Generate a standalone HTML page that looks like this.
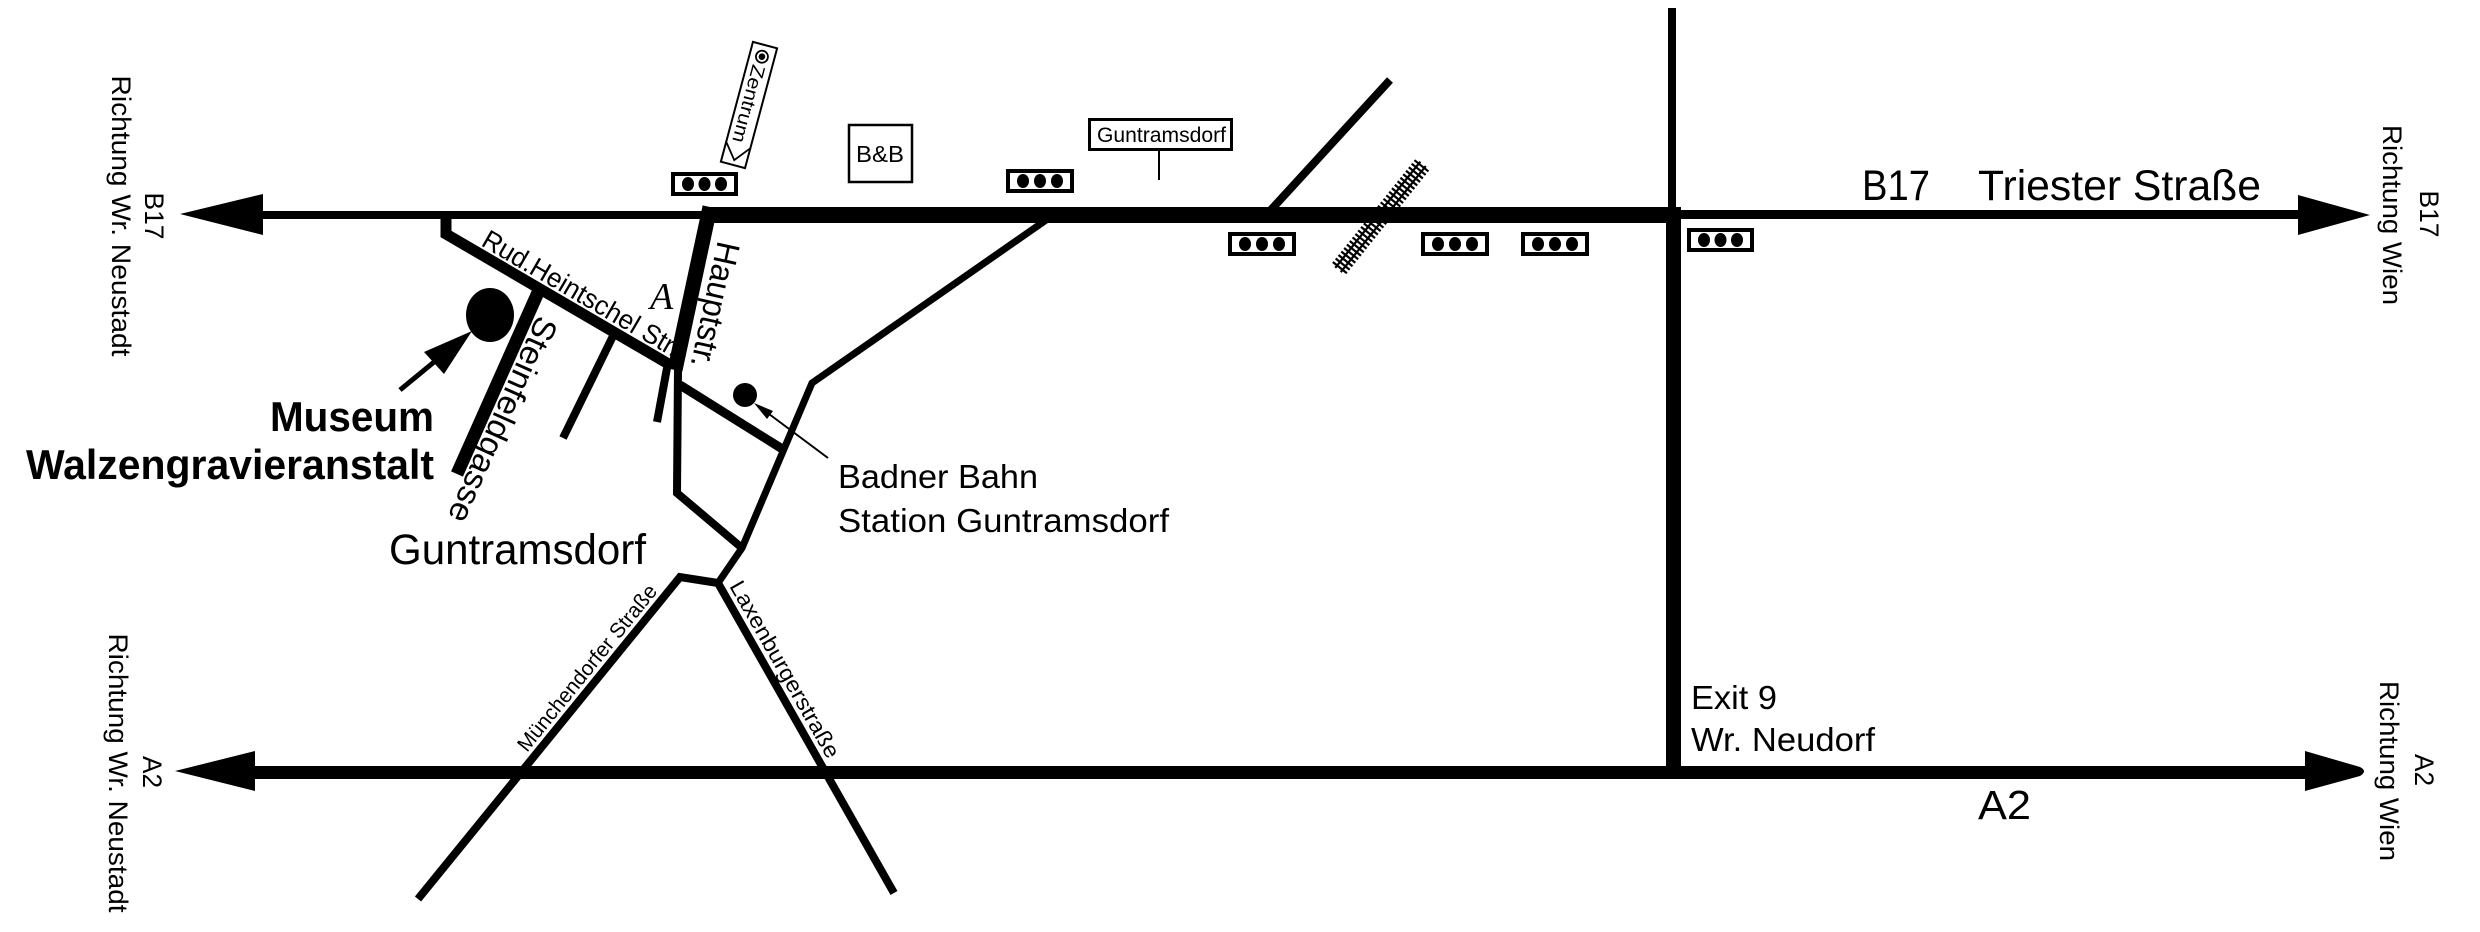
<!DOCTYPE html>
<html>
<head>
<meta charset="utf-8">
<style>
  html, body { margin: 0; padding: 0; background: #fff; }
  svg { display: block; }
  text { font-family: "Liberation Sans", Arial, sans-serif; fill: #000; }
</style>
</head>
<body>
<svg width="2480" height="932" viewBox="0 0 2480 932" xmlns="http://www.w3.org/2000/svg">
  <rect width="2480" height="932" fill="#fff"/>

  <!-- ===== B17 main road ===== -->
  <rect x="258" y="211" width="452" height="8" fill="#000"/>
  <rect x="703" y="207" width="978" height="16" fill="#000"/>
  <rect x="1675" y="210" width="626" height="9" fill="#000"/>
  <polygon points="180,214 263,194 263,235" fill="#000"/>
  <polygon points="2370,215 2298,195 2298,235" fill="#000"/>

  <!-- vertical road (Exit 9) -->
  <rect x="1668" y="8" width="8" height="205" fill="#000"/>
  <rect x="1666" y="207" width="15" height="572" fill="#000"/>

  <!-- ===== A2 ===== -->
  <rect x="250" y="766" width="2060" height="13" fill="#000"/>
  <polygon points="175,771 255,751 255,791" fill="#000"/>
  <path d="M2305,751 L2360,767 Q2368,771 2360,776 L2305,791 Z" fill="#000"/>

  <!-- ===== local roads ===== -->
  <g stroke="#000" fill="none" stroke-linecap="butt" stroke-linejoin="miter">
    <line x1="710" y1="207" x2="675" y2="370" stroke-width="15"/>
    <polyline points="446,217 446,234 672,366" stroke-width="11"/>
    <line x1="540" y1="288" x2="457" y2="474" stroke-width="13"/>
    <line x1="614" y1="334" x2="563" y2="438" stroke-width="8"/>
    <line x1="667" y1="368" x2="657" y2="422" stroke-width="8"/>
    <polyline points="678,368 677,493 742,548" stroke-width="8"/>
    <line x1="680" y1="385" x2="784" y2="450" stroke-width="9"/>
    <polyline points="1049,218 812,383 742,548 718,583" stroke-width="7"/>
    <polyline points="718,583 680,577 418,899" stroke-width="8"/>
    <line x1="718" y1="583" x2="894" y2="893" stroke-width="8"/>
    <line x1="1269" y1="212" x2="1390" y2="80" stroke-width="8"/>
  </g>

  <!-- railway -->
  <g transform="translate(1338,270) rotate(-51.3)" stroke="#000" fill="none">
    <line x1="0" y1="-3.5" x2="136" y2="-3.5" stroke-width="2.2"/>
    <line x1="0" y1="3.5" x2="136" y2="3.5" stroke-width="2.2"/>
    <path stroke-width="2.2" d="M3,-9V9M7.5,-9V9M12,-9V9M16.5,-9V9M21,-9V9M25.5,-9V9M30,-9V9M34.5,-9V9M39,-9V9M43.5,-9V9M48,-9V9M52.5,-9V9M57,-9V9M61.5,-9V9M66,-9V9M70.5,-9V9M75,-9V9M79.5,-9V9M84,-9V9M88.5,-9V9M93,-9V9M97.5,-9V9M102,-9V9M106.5,-9V9M111,-9V9M115.5,-9V9M120,-9V9M124.5,-9V9M129,-9V9M133.5,-9V9"/>
  </g>

  <!-- Museum dot + arrow -->
  <ellipse cx="490" cy="315" rx="24" ry="27" fill="#000"/>
  <line x1="400" y1="390" x2="445" y2="353" stroke="#000" stroke-width="5"/>
  <polygon points="472,331 424,352 444,374" fill="#000"/>

  <!-- Badner Bahn dot + arrow -->
  <circle cx="745" cy="395" r="12" fill="#000"/>
  <line x1="828" y1="458" x2="765" y2="411" stroke="#000" stroke-width="2"/>
  <polygon points="754,403 773,411 767,419" fill="#000"/>

  <!-- traffic lights -->
  <g>
    <g transform="translate(671,172)">
      <rect width="67" height="24" fill="#000"/><rect x="4" y="4" width="59" height="16" fill="#fff"/>
      <ellipse cx="17" cy="12" rx="6" ry="7" fill="#000"/><ellipse cx="33.5" cy="12" rx="6" ry="7" fill="#000"/><ellipse cx="50" cy="12" rx="6" ry="7" fill="#000"/>
    </g>
    <g transform="translate(1006,169)">
      <rect width="68" height="24" fill="#000"/><rect x="4" y="4" width="60" height="16" fill="#fff"/>
      <ellipse cx="17" cy="12" rx="6" ry="7" fill="#000"/><ellipse cx="34" cy="12" rx="6" ry="7" fill="#000"/><ellipse cx="51" cy="12" rx="6" ry="7" fill="#000"/>
    </g>
    <g transform="translate(1228,232)">
      <rect width="68" height="24" fill="#000"/><rect x="4" y="4" width="60" height="16" fill="#fff"/>
      <ellipse cx="17" cy="12" rx="6" ry="7" fill="#000"/><ellipse cx="34" cy="12" rx="6" ry="7" fill="#000"/><ellipse cx="51" cy="12" rx="6" ry="7" fill="#000"/>
    </g>
    <g transform="translate(1421,232)">
      <rect width="68" height="24" fill="#000"/><rect x="4" y="4" width="60" height="16" fill="#fff"/>
      <ellipse cx="17" cy="12" rx="6" ry="7" fill="#000"/><ellipse cx="34" cy="12" rx="6" ry="7" fill="#000"/><ellipse cx="51" cy="12" rx="6" ry="7" fill="#000"/>
    </g>
    <g transform="translate(1521,232)">
      <rect width="68" height="24" fill="#000"/><rect x="4" y="4" width="60" height="16" fill="#fff"/>
      <ellipse cx="17" cy="12" rx="6" ry="7" fill="#000"/><ellipse cx="34" cy="12" rx="6" ry="7" fill="#000"/><ellipse cx="51" cy="12" rx="6" ry="7" fill="#000"/>
    </g>
    <g transform="translate(1687,228)">
      <rect width="67" height="24" fill="#000"/><rect x="4" y="4" width="59" height="16" fill="#fff"/>
      <ellipse cx="17" cy="12" rx="6" ry="7" fill="#000"/><ellipse cx="33.5" cy="12" rx="6" ry="7" fill="#000"/><ellipse cx="50" cy="12" rx="6" ry="7" fill="#000"/>
    </g>
  </g>

  <!-- Zentrum sign -->
  <g transform="translate(749,105) rotate(15)">
    <rect x="-12.5" y="-62" width="25" height="124" fill="#fff" stroke="#000" stroke-width="2"/>
    <circle cx="0" cy="-50" r="6" fill="none" stroke="#000" stroke-width="1.8"/>
    <circle cx="0" cy="-50" r="3.3" fill="#000"/>
    <text transform="rotate(90)" x="-41" y="7" font-size="19" textLength="80" lengthAdjust="spacingAndGlyphs">Zentrum</text>
    <polyline points="-12,42 0,57 12,42" fill="none" stroke="#000" stroke-width="1.8"/>
  </g>

  <!-- B&B -->
  <rect x="849" y="125" width="63" height="57" fill="#fff" stroke="#000" stroke-width="2.5"/>
  <text x="856" y="162" font-size="23" textLength="48" lengthAdjust="spacingAndGlyphs">B&amp;B</text>

  <!-- Guntramsdorf sign -->
  <rect x="1089.5" y="119.5" width="142" height="30" fill="#fff" stroke="#000" stroke-width="3"/>
  <text x="1097" y="142" font-size="21" textLength="129" lengthAdjust="spacingAndGlyphs">Guntramsdorf</text>
  <line x1="1159" y1="150" x2="1159" y2="180" stroke="#000" stroke-width="2"/>

  <!-- Apotheke symbol -->
  <text x="650" y="309" font-size="38" style="font-family:'Liberation Serif',serif;font-style:italic">A</text>

  <!-- street labels -->
  <text transform="translate(480,245) rotate(30.2)" font-size="27" textLength="224" lengthAdjust="spacingAndGlyphs">Rud.Heintschel Str.</text>
  <text transform="translate(718,240) rotate(102.4)" font-size="33" textLength="128" lengthAdjust="spacingAndGlyphs">Hauptstr.</text>
  <text transform="translate(538,314) rotate(114.1)" font-size="33" textLength="222" lengthAdjust="spacingAndGlyphs">Steinfeldgasse</text>
  <text transform="translate(527,753) rotate(-50.9)" font-size="21" textLength="208" lengthAdjust="spacingAndGlyphs">Münchendorfer Straße</text>
  <text transform="translate(729,586) rotate(60.4)" font-size="22" textLength="200" lengthAdjust="spacingAndGlyphs">Laxenburgerstraße</text>

  <!-- big labels -->
  <text x="434" y="431" font-size="42" font-weight="bold" text-anchor="end" textLength="164" lengthAdjust="spacingAndGlyphs">Museum</text>
  <text x="26" y="479" font-size="42" font-weight="bold" textLength="408" lengthAdjust="spacingAndGlyphs">Walzengravieranstalt</text>
  <text x="389" y="564" font-size="43" textLength="257" lengthAdjust="spacingAndGlyphs">Guntramsdorf</text>
  <text x="838" y="488" font-size="33" textLength="200" lengthAdjust="spacingAndGlyphs">Badner Bahn</text>
  <text x="838" y="532" font-size="33" textLength="331" lengthAdjust="spacingAndGlyphs">Station Guntramsdorf</text>
  <text x="1862" y="200" font-size="43" textLength="68" lengthAdjust="spacingAndGlyphs">B17</text>
  <text x="1978" y="200" font-size="43" textLength="283" lengthAdjust="spacingAndGlyphs">Triester Straße</text>
  <text x="1691" y="709" font-size="33" textLength="86" lengthAdjust="spacingAndGlyphs">Exit 9</text>
  <text x="1691" y="751" font-size="33" textLength="184" lengthAdjust="spacingAndGlyphs">Wr. Neudorf</text>
  <text x="1978" y="819" font-size="41" textLength="53" lengthAdjust="spacingAndGlyphs">A2</text>

  <!-- rotated direction labels -->
  <text transform="translate(145,216) rotate(90)" font-size="27" text-anchor="middle" textLength="47" lengthAdjust="spacingAndGlyphs">B17</text>
  <text transform="translate(112,216) rotate(90)" font-size="27" text-anchor="middle" textLength="281" lengthAdjust="spacingAndGlyphs">Richtung Wr. Neustadt</text>

  <text transform="translate(2420,214) rotate(90)" font-size="27" text-anchor="middle" textLength="47" lengthAdjust="spacingAndGlyphs">B17</text>
  <text transform="translate(2383,215) rotate(90)" font-size="27" text-anchor="middle" textLength="180" lengthAdjust="spacingAndGlyphs">Richtung Wien</text>

  <text transform="translate(143,772) rotate(90)" font-size="27" text-anchor="middle" textLength="32" lengthAdjust="spacingAndGlyphs">A2</text>
  <text transform="translate(109,773) rotate(90)" font-size="27" text-anchor="middle" textLength="279" lengthAdjust="spacingAndGlyphs">Richtung Wr. Neustadt</text>

  <text transform="translate(2415,770) rotate(90)" font-size="27" text-anchor="middle" textLength="32" lengthAdjust="spacingAndGlyphs">A2</text>
  <text transform="translate(2380,771) rotate(90)" font-size="27" text-anchor="middle" textLength="180" lengthAdjust="spacingAndGlyphs">Richtung Wien</text>
</svg>
</body>
</html>
